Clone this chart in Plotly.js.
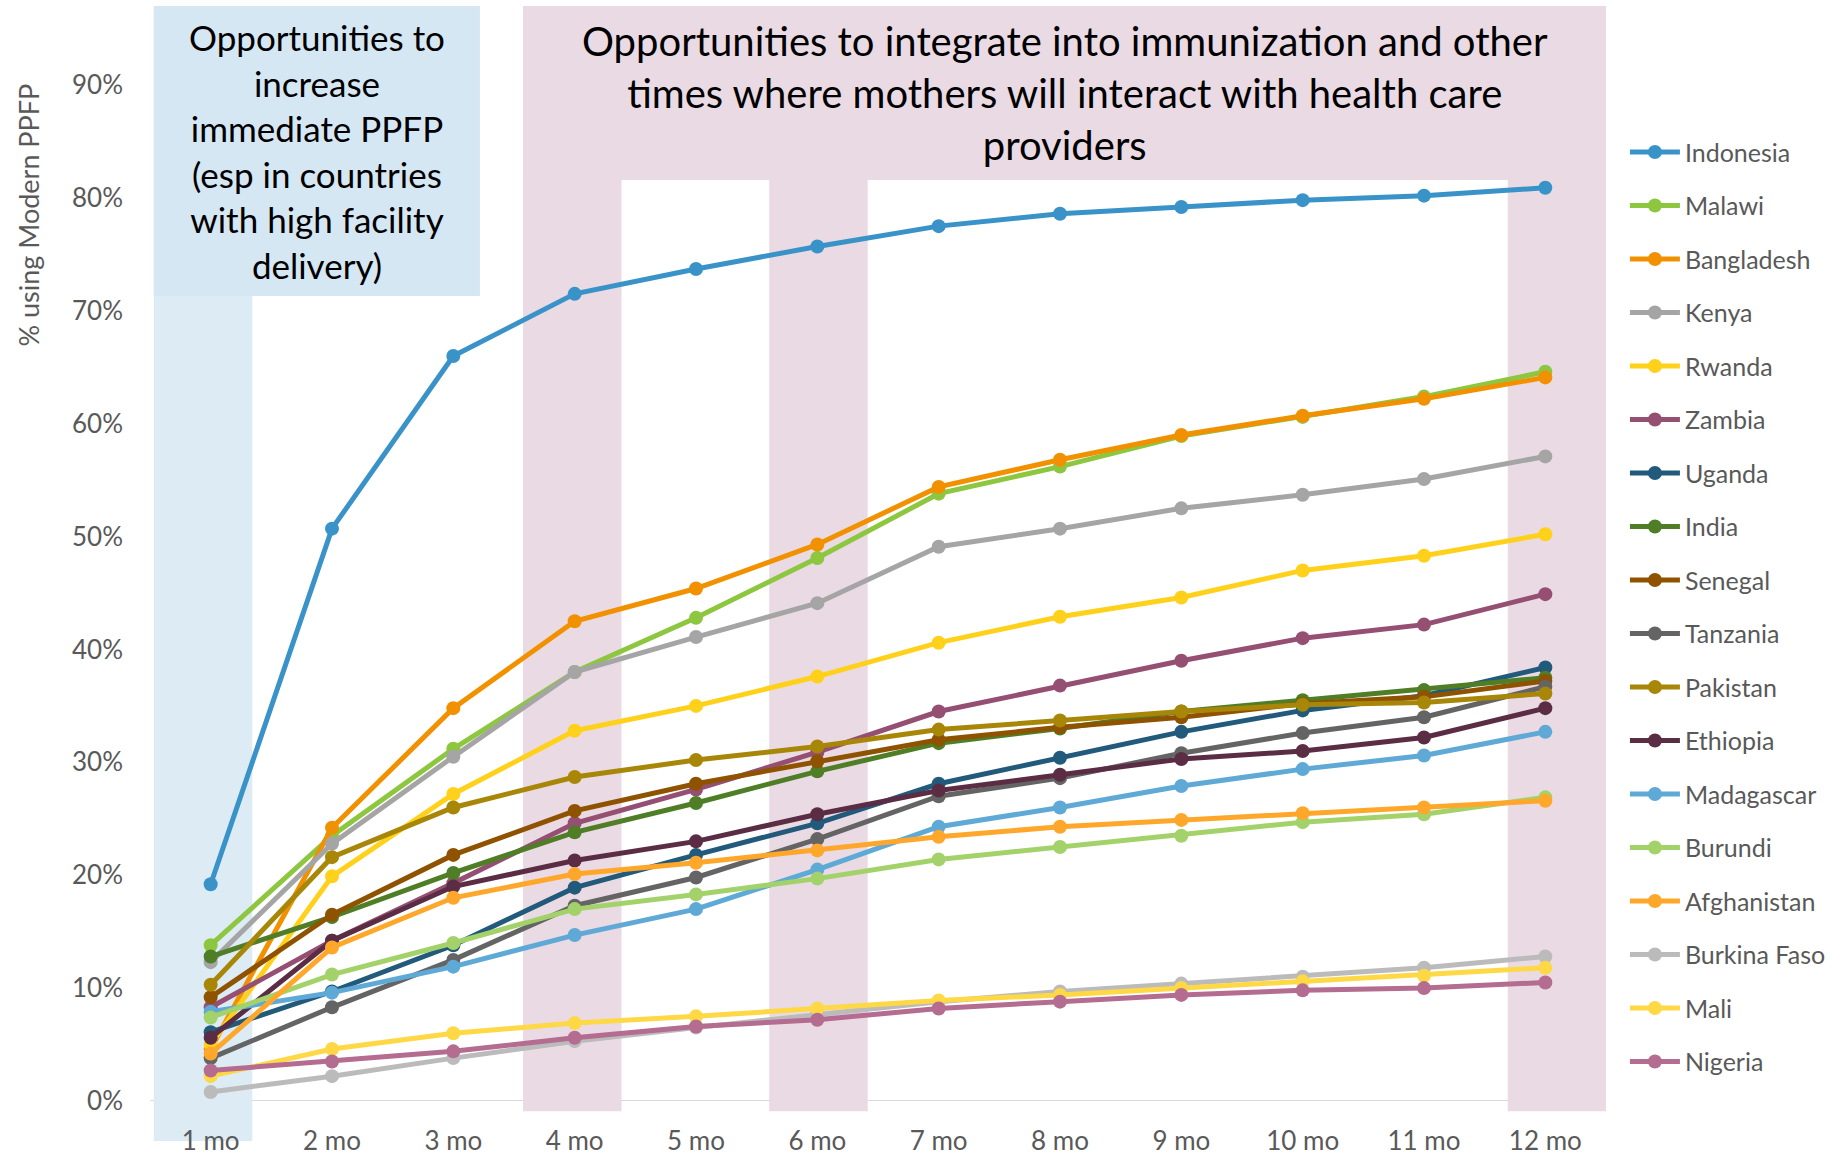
<!DOCTYPE html>
<html>
<head>
<meta charset="utf-8">
<script src="https://cdn.plot.ly/plotly-3.0.1.min.js"></script>
<style>
html, body { margin: 0; padding: 0; background: #ffffff; }
#chart { width: 1848px; height: 1158px; }
</style>
</head>
<body>
<div id="chart"></div>
<script>
// ---------- data ----------
const months = ['1 mo','2 mo','3 mo','4 mo','5 mo','6 mo','7 mo','8 mo','9 mo','10 mo','11 mo','12 mo'];

const indonesia   = [19.2, 50.7, 66.0, 71.5, 73.7, 75.7, 77.5, 78.6, 79.2, 79.8, 80.2, 80.9];
const malawi      = [13.8, 23.5, 31.2, 38.0, 42.8, 48.1, 53.8, 56.2, 58.9, 60.6, 62.4, 64.6];
const bangladesh  = [4.6, 24.2, 34.8, 42.5, 45.4, 49.3, 54.4, 56.8, 59.0, 60.7, 62.2, 64.1];
const kenya       = [12.3, 22.8, 30.5, 38.0, 41.1, 44.1, 49.1, 50.7, 52.5, 53.7, 55.1, 57.1];
const rwanda      = [5.0, 19.9, 27.2, 32.8, 35.0, 37.6, 40.6, 42.9, 44.6, 47.0, 48.3, 50.2];
const zambia      = [8.3, 14.2, 19.3, 24.6, 27.6, 30.9, 34.5, 36.8, 39.0, 41.0, 42.2, 44.9];
const uganda      = [6.1, 9.7, 13.8, 18.9, 21.8, 24.6, 28.1, 30.4, 32.7, 34.6, 35.9, 38.4];
const india       = [12.8, 16.3, 20.2, 23.8, 26.4, 29.2, 31.7, 33.0, 34.5, 35.5, 36.4, 37.5];
const senegal     = [9.2, 16.5, 21.8, 25.7, 28.1, 30.1, 32.0, 33.1, 34.0, 35.2, 35.8, 37.2];
const tanzania    = [3.8, 8.3, 12.5, 17.3, 19.8, 23.2, 27.0, 28.6, 30.8, 32.6, 34.0, 36.7];
const pakistan    = [10.3, 21.6, 26.0, 28.7, 30.2, 31.4, 32.9, 33.7, 34.5, 35.1, 35.3, 36.1];
const ethiopia    = [5.6, 14.2, 19.0, 21.3, 23.0, 25.4, 27.5, 28.9, 30.3, 31.0, 32.2, 34.8];
const madagascar  = [7.9, 9.6, 11.9, 14.7, 17.0, 20.5, 24.3, 26.0, 27.9, 29.4, 30.6, 32.7];
const burundi     = [7.4, 11.2, 14.0, 17.0, 18.3, 19.7, 21.4, 22.5, 23.5, 24.7, 25.4, 26.9];
const afghanistan = [4.2, 13.6, 18.0, 20.1, 21.1, 22.2, 23.4, 24.3, 24.9, 25.5, 26.0, 26.6];
const burkinaFaso = [0.8, 2.2, 3.8, 5.3, 6.5, 7.7, 8.8, 9.7, 10.4, 11.0, 11.8, 12.8];
const mali        = [2.2, 4.6, 6.0, 6.9, 7.5, 8.2, 8.9, 9.4, 10.0, 10.6, 11.1, 11.8];
const nigeria     = [2.7, 3.5, 4.4, 5.6, 6.6, 7.2, 8.2, 8.8, 9.4, 9.8, 10.0, 10.5];

const seriesNames = ['Indonesia','Malawi','Bangladesh','Kenya','Rwanda','Zambia','Uganda','India','Senegal',
  'Tanzania','Pakistan','Ethiopia','Madagascar','Burundi','Afghanistan','Burkina Faso','Mali','Nigeria'];
const seriesValues = [indonesia, malawi, bangladesh, kenya, rwanda, zambia, uganda, india, senegal,
  tanzania, pakistan, ethiopia, madagascar, burundi, afghanistan, burkinaFaso, mali, nigeria];
const seriesColors = ['#3A93C8','#8DC63F','#F29100','#A5A5A5','#FFD11A','#954F72','#215A7B','#4F7E26','#8F5300',
  '#646464','#A88708','#5A2D45','#5EA9D5','#A4D26A','#FFA72B','#BBBBBB','#FFD845','#B46C90'];

const yTickVals = [0, 10, 20, 30, 40, 50, 60, 70, 80, 90];
const yTickText = ['0%', '10%', '20%', '30%', '40%', '50%', '60%', '70%', '80%', '90%'];

// highlighted columns
const blueBandMonths = ['1 mo'];
const pinkBandMonths = ['4 mo', '6 mo', '12 mo'];

const blueBoxLines = ['Opportunities to', 'increase', 'immediate PPFP', '(esp in countries', 'with high facility', 'delivery)'];
const pinkBoxLines = ['Opportunities to integrate into immunization and other',
  'times where mothers will interact with health care', 'providers'];

// ---------- build ----------
const FONT = 'Lato, "Open Sans", sans-serif';
const GREY = '#595959';
const BLUE_COL = '#DCEBF4';
const BLUE_BOX = '#D6E7F4';
const PINK = '#EADAE3';

const traces = seriesNames.map((n, i) => ({
  type: 'scatter',
  mode: 'lines+markers',
  name: n,
  legendgroup: n,
  x: months,
  y: seriesValues[i],
  line: { color: seriesColors[i], width: 5 },
  marker: { color: seriesColors[i], size: 14 }
}));

const shapes = [];
// zero gridline
shapes.push({ type: 'line', layer: 'below', xref: 'paper', x0: 0, x1: 1, yref: 'y', y0: 0, y1: 0,
  line: { color: '#D9D9D9', width: 2 } });
blueBandMonths.forEach(m => {
  const i = months.indexOf(m);
  shapes.push({ type: 'rect', layer: 'below', xref: 'x2', x0: i - 0.4, x1: i + 0.4, yref: 'paper', y0: -0.0365, y1: 1,
    fillcolor: BLUE_COL, line: { width: 0 } });
});
pinkBandMonths.forEach(m => {
  const i = months.indexOf(m);
  shapes.push({ type: 'rect', layer: 'below', xref: 'x2', x0: i - 0.4, x1: i + 0.4, yref: 'paper', y0: -0.0093, y1: 1,
    fillcolor: PINK, line: { width: 0 } });
});
// text box backgrounds
shapes.push({ type: 'rect', layer: 'below', xref: 'x2', x0: -0.4, x1: 2.25, yref: 'paper', y0: 0.7352, y1: 1,
  fillcolor: BLUE_BOX, line: { width: 0 } });
shapes.push({ type: 'rect', layer: 'below', xref: 'x2', x0: 2.6, x1: 11.4, yref: 'paper', y0: 0.8411, y1: 1,
  fillcolor: PINK, line: { width: 0 } });

const annotations = [
  { xref: 'paper', yref: 'paper', x: 0.115, y: 0.8678, xanchor: 'center', yanchor: 'middle', showarrow: false,
    text: blueBoxLines.join('<br>'), align: 'center', font: { family: FONT, size: 35, color: '#000000' } },
  { xref: 'paper', yref: 'paper', x: 0.6284, y: 0.9201, xanchor: 'center', yanchor: 'middle', showarrow: false,
    text: pinkBoxLines.join('<br>'), align: 'center', font: { family: FONT, size: 40, color: '#000000' } },
  { xref: 'paper', yref: 'paper', x: -0.0835, y: 0.809, xanchor: 'center', yanchor: 'middle', showarrow: false,
    textangle: -90, text: '% using Modern PPFP', font: { family: FONT, size: 27, color: GREY } }
];

const layout = {
  width: 1848, height: 1158,
  margin: { l: 150, r: 242, t: 6, b: 57 },
  paper_bgcolor: '#ffffff', plot_bgcolor: 'rgba(0,0,0,0)',
  font: { family: FONT, color: GREY },
  showlegend: true,
  legend: { x: 1.013, xanchor: 'left', y: 0.8875, yanchor: 'top', tracegroupgap: 18, itemwidth: 50,
    bgcolor: 'rgba(0,0,0,0)', font: { family: FONT, size: 25, color: GREY } },
  xaxis: { type: 'category', range: [-0.5, 11.5], showgrid: false, zeroline: false, showline: false, ticks: '',
    ticklabelstandoff: 22, tickfont: { family: FONT, size: 26, color: GREY } },
  xaxis2: { type: 'linear', overlaying: 'x', anchor: 'y', range: [-0.4306, 11.398], visible: false,
    showgrid: false, zeroline: false },
  yaxis: { range: [0, 97], tickmode: 'array', tickvals: yTickVals, ticktext: yTickText, showgrid: false,
    zeroline: false, showline: false, ticks: '', ticklabelstandoff: 26,
    tickfont: { family: FONT, size: 26, color: GREY } },
  shapes: shapes,
  annotations: annotations
};

Plotly.newPlot('chart', traces, layout, { displayModeBar: false, staticPlot: true });
</script>
</body>
</html>
